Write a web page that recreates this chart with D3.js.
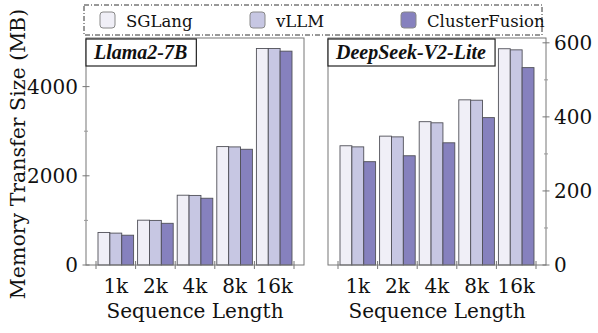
<!DOCTYPE html>
<html lang="en">
<head>
    <meta charset="utf-8">
    <title>Memory Transfer Size</title>
    <script src="https://cdn.jsdelivr.net/npm/d3@7"></script>
    <style>
        body { margin: 0; background: #fff; }
        text { font-family: "DejaVu Serif", "Liberation Serif", serif; fill: #111; }
    </style>
</head>
<body>
<script>
    // data
    var categories = ["1k", "2k", "4k", "8k", "16k"];
    var systems = ["SGLang", "vLLM", "ClusterFusion"];
    var colors = ["#f0eff7", "#c7c7e3", "#8681be"];

    var llamaSGLang = [730, 1005, 1565, 2655, 4855];
    var llamaVLLM = [715, 1000, 1560, 2648, 4855];
    var llamaCF = [668, 935, 1497, 2595, 4795];

    var deepseekSGLang = [322, 348, 387, 446, 584];
    var deepseekVLLM = [319, 346, 384, 445, 581];
    var deepseekCF = [279, 295, 330, 398, 533];

    var llamaTicks = [0, 2000, 4000];
    var llamaMinor = [1000, 3000];
    var deepseekTicks = [0, 200, 400, 600];
    var deepseekMinor = [100, 300, 500];

    var w = 598, h = 333;
    var plotTop = 38, plotBottom = 265;

    var svg = d3.select("body").append("svg")
        .attr("width", w)
        .attr("height", h);

    var panels = [
        {title: "Llama2-7B", x0: 86, x1: 304, max: 5090, series: [llamaSGLang, llamaVLLM, llamaCF],
            ticks: llamaTicks, minor: llamaMinor, side: "left"},
        {title: "DeepSeek-V2-Lite", x0: 328, x1: 546, max: 613, series: [deepseekSGLang, deepseekVLLM, deepseekCF],
            ticks: deepseekTicks, minor: deepseekMinor, side: "right"}
    ];

    panels.forEach(function (p) {
        var g = svg.append("g");

        var x = d3.scaleBand()
            .domain(categories)
            .range([p.x0 + 10, p.x1 - 10])
            .paddingInner(0)
            .paddingOuter(0);

        var xs = d3.scaleBand()
            .domain(systems)
            .range([2, x.bandwidth() - 2]);

        var y = d3.scaleLinear()
            .domain([0, p.max])
            .range([plotBottom, plotTop]);

        // bars
        systems.forEach(function (s, si) {
            g.selectAll(null)
                .data(p.series[si])
                .enter()
                .append("rect")
                .attr("x", (d, i) => x(categories[i]) + xs(s))
                .attr("y", d => y(d))
                .attr("width", xs.bandwidth())
                .attr("height", d => y(0) - y(d))
                .attr("fill", colors[si])
                .attr("stroke", "#505058")
                .attr("stroke-width", 0.9);
        });

        // frame
        g.append("rect")
            .attr("x", p.x0)
            .attr("y", plotTop)
            .attr("width", p.x1 - p.x0)
            .attr("height", plotBottom - plotTop)
            .attr("fill", "none")
            .attr("stroke", "#777")
            .attr("stroke-width", 1);

        // x ticks at group boundaries
        var bounds = categories.map(c => x(c)).concat([x(categories[categories.length - 1]) + x.bandwidth()]);
        g.selectAll(null)
            .data(bounds)
            .enter()
            .append("line")
            .attr("x1", d => d).attr("x2", d => d)
            .attr("y1", plotBottom - 4).attr("y2", plotBottom + 4)
            .attr("stroke", "#777");

        g.selectAll(null)
            .data(categories)
            .enter()
            .append("text")
            .attr("x", d => x(d) + x.bandwidth() / 2)
            .attr("y", 293)
            .attr("text-anchor", "middle")
            .attr("font-size", "20px")
            .text(d => d);

        g.append("text")
            .attr("x", (p.x0 + p.x1) / 2)
            .attr("y", 318)
            .attr("text-anchor", "middle")
            .attr("font-size", "20px")
            .text("Sequence Length");

        // y axis
        var ax = p.side === "left" ? p.x0 : p.x1;
        var yAxis = (p.side === "left" ? d3.axisLeft(y) : d3.axisRight(y))
            .tickValues(p.ticks)
            .tickFormat(d3.format("d"))
            .tickSize(0)
            .tickPadding(8);
        var ag = g.append("g")
            .attr("transform", "translate(" + ax + ",0)")
            .call(yAxis);
        ag.select(".domain").remove();
        ag.attr("font-family", null).attr("font-size", null);
        ag.selectAll("text")
            .attr("font-size", "20px")
            .attr("fill", "#111");

        g.selectAll(null)
            .data(p.ticks)
            .enter()
            .append("line")
            .attr("x1", ax - 3.5).attr("x2", ax + 3.5)
            .attr("y1", d => y(d)).attr("y2", d => y(d))
            .attr("stroke", "#777");
        g.selectAll(null)
            .data(p.minor)
            .enter()
            .append("line")
            .attr("x1", ax - 2).attr("x2", ax + 2)
            .attr("y1", d => y(d)).attr("y2", d => y(d))
            .attr("stroke", "#999");

        // title box
        var tg = g.append("g");
        var tt = tg.append("text")
            .attr("x", p.x0 + 8)
            .attr("y", plotTop + 21)
            .attr("font-size", "20px")
            .attr("font-weight", "bold")
            .attr("font-style", "italic")
            .style("font-family", "'Liberation Serif', serif")
            .text(p.title);
        var bb = tt.node().getBBox();
        tg.insert("rect", "text")
            .attr("x", p.x0)
            .attr("y", plotTop + 1)
            .attr("width", bb.width + 16)
            .attr("height", 27)
            .attr("fill", "#fff")
            .attr("stroke", "#222")
            .attr("stroke-width", 1.2);
    });

    // y label
    svg.append("text")
        .attr("transform", "translate(25,154) rotate(-90)")
        .attr("text-anchor", "middle")
        .attr("font-size", "20.5px")
        .text("Memory Transfer Size (MB)");

    // legend
    svg.append("rect")
        .attr("x", 84)
        .attr("y", 5)
        .attr("width", 458)
        .attr("height", 30)
        .attr("fill", "#fff")
        .attr("stroke", "#333")
        .attr("stroke-width", 1)
        .attr("stroke-dasharray", "5,2,1,2");

    var legendX = [100, 250, 401];
    var lg = svg.selectAll(".leg")
        .data(systems)
        .enter()
        .append("g")
        .attr("class", "leg")
        .attr("transform", (d, i) => "translate(" + legendX[i] + ",0)");
    lg.append("rect")
        .attr("x", 0).attr("y", 12)
        .attr("width", 15).attr("height", 16)
        .attr("rx", 3)
        .attr("fill", (d, i) => colors[i])
        .attr("stroke", "#888")
        .attr("stroke-width", 1);
    lg.append("text")
        .attr("x", 26)
        .attr("y", 26.5)
        .attr("font-size", "16.5px")
        .text(d => d);
</script>
</body>
</html>
